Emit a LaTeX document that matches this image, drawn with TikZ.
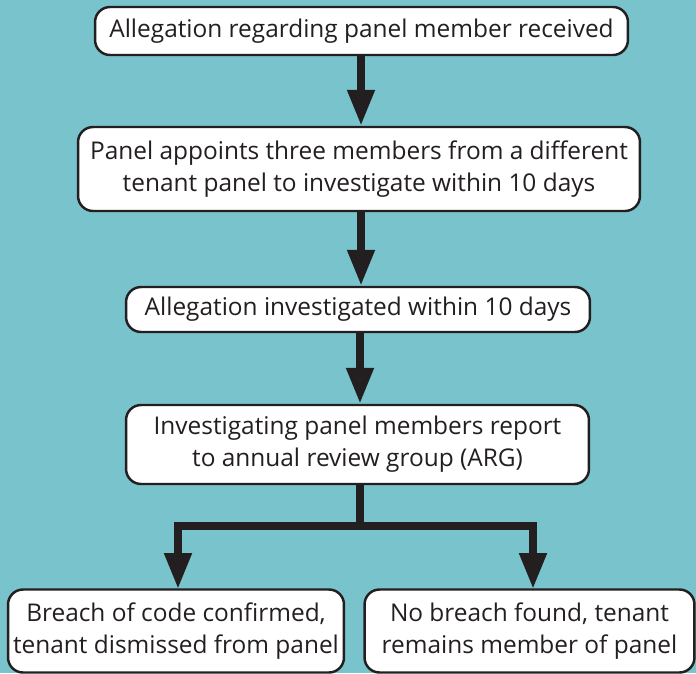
\documentclass[tikz,border=0pt]{standalone}
\usepackage{fontspec}
\setmainfont{Open Sans}
\usetikzlibrary{arrows.meta}
\definecolor{sea}{HTML}{79C3CC}
\definecolor{ink}{HTML}{231F20}
\tikzset{
    box/.style={draw=ink, line width=1.4pt, fill=white, rounded corners=0.3cm,
        align=center, text=ink, inner sep=0pt,
        font=\fontsize{13.9}{18.2}\selectfont},
    flow/.style={draw=ink, line width=4.5pt, line join=miter,
        -{Triangle[length=0.72cm, width=0.52cm]}},
}
\begin{document}
\begin{tikzpicture}[x=0.02cm, y=-0.02cm]
        \fill[sea] (0,0) rectangle (696,673);
        \useasboundingbox (0,0) rectangle (696,673);

        \node[box, minimum width=10.66cm, minimum height=0.96cm] (received) at (361.5, 31) {Allegation regarding panel member received};
        \node[box, minimum width=11.24cm, minimum height=1.68cm] (appoint) at (359, 169) {Panel appoints three members from a different\\tenant panel to investigate within 10 days};
        \node[box, minimum width=9.28cm, minimum height=0.9cm] (investigated) at (358, 309.5) {Allegation investigated within 10 days};
        \node[box, minimum width=9.26cm, minimum height=1.58cm] (report) at (357.5, 444.5) {Investigating panel members report\\to annual review group (ARG)};
        \node[box, minimum width=6.72cm, minimum height=1.66cm] (breach) at (176, 631) {Breach of code confirmed,\\tenant dismissed from panel};
        \node[box, minimum width=6.6cm, minimum height=1.66cm] (nobreach) at (529.5, 631) {No breach found, tenant\\remains member of panel};

        \coordinate (split) at (360, 526);

        \draw[flow] (361, 55) coordinate (a1) -- (a1 |- appoint.north);
        \draw[flow] (361, 211) coordinate (a2) -- (a2 |- investigated.north);
        \draw[flow] (360, 332) coordinate (a3) -- (a3 |- report.north);
        \draw[flow, -] (split |- report.south) -- (split);
        \draw[flow] (split) -| (178, 589);
        \draw[flow] (split) -| (533, 589);

    \end{tikzpicture}
\end{document}
